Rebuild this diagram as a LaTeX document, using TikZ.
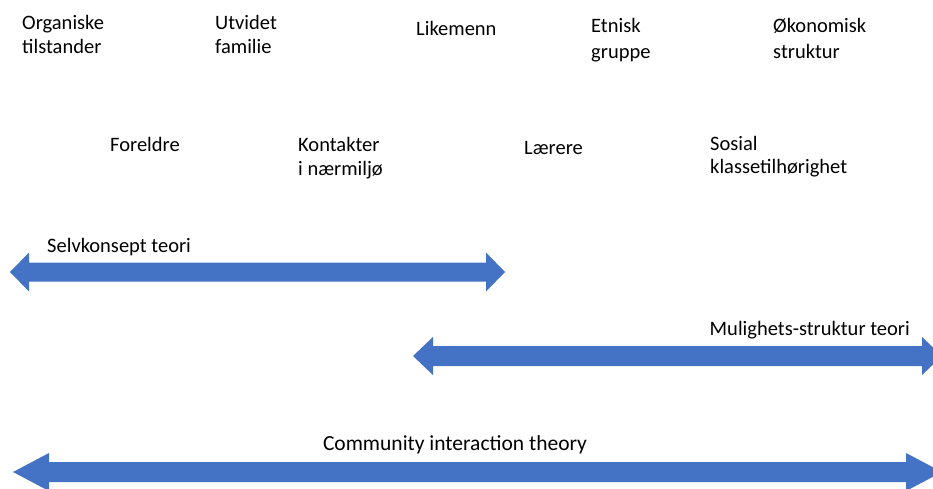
\documentclass[tikz,border=0pt]{standalone}
\usepackage{fontspec}
\setmainfont{Carlito}
\definecolor{arrowblue}{HTML}{4472C4}
\newcommand{\dblarr}[7]{% name, xleft tip, xright tip, yc, headlen, shafthalf, headhalf
  \fill[arrowblue] (#2,#4) -- (#2+#5,#4-#7) -- (#2+#5,#4-#6) -- (#3-#5,#4-#6) -- (#3-#5,#4-#7)
    -- (#3,#4) -- (#3-#5,#4+#7) -- (#3-#5,#4+#6) -- (#2+#5,#4+#6) -- (#2+#5,#4+#7) -- cycle;
  \coordinate (#1) at ({(#2+#3)/2},#4);}
\newcommand{\twol}[2]{\begin{tabular}[t]{@{}l@{}}#1\\#2\end{tabular}}
\tikzset{
  lbl/.style={anchor=base west, inner sep=0pt, font=\fontsize{20.5}{24}\selectfont},
  lblw/.style={anchor=base west, inner sep=0pt, font=\fontsize{20.5}{26}\selectfont},
}
\begin{document}
\begin{tikzpicture}[x=1pt,y=-1pt]
\useasboundingbox (0,0) rectangle (933,489);
\fill[white] (0,0) rectangle (933,489);
\begin{scope}
\clip (0,0) rectangle (933,489);
\dblarr{selv}{10}{505}{272}{19}{9.5}{19.5}
\dblarr{mul}{413}{942}{356}{20}{10}{19}
\dblarr{com}{13}{942}{472}{36}{10}{19}
\end{scope}
% top row
\node[lbl] (org) at (22,30) {\twol{Organiske}{tilstander}};
\node[lbl] (utv) at (215,30) {\twol{Utvidet}{familie}};
\node[lbl] (like) at (416,36) {Likemenn};
\node[lblw] (etn) at (591,33) {\twol{Etnisk}{gruppe}};
\node[lblw] (oko) at (773,33) {\twol{Økonomisk}{struktur}};
% second row
\node[lbl] (for) at (110,152) {Foreldre};
\node[lbl] (kon) at (298,152) {\twol{Kontakter}{i nærmiljø}};
\node[lbl] (lae) at (524,155) {Lærere};
\node[lbl] (sos) at (710,150) {\twol{Sosial}{klassetilhørighet}};
% arrow labels
\node[lbl] (selvt) at (47,252) {Selvkonsept teori};
\node[lbl, anchor=base east] (mult) at (910,335) {Mulighets-struktur teori};
\node[lbl, anchor=base, font=\fontsize{21.5}{24}\selectfont] (comt) at (455,450) {Community interaction theory};
\end{tikzpicture}
\end{document}
